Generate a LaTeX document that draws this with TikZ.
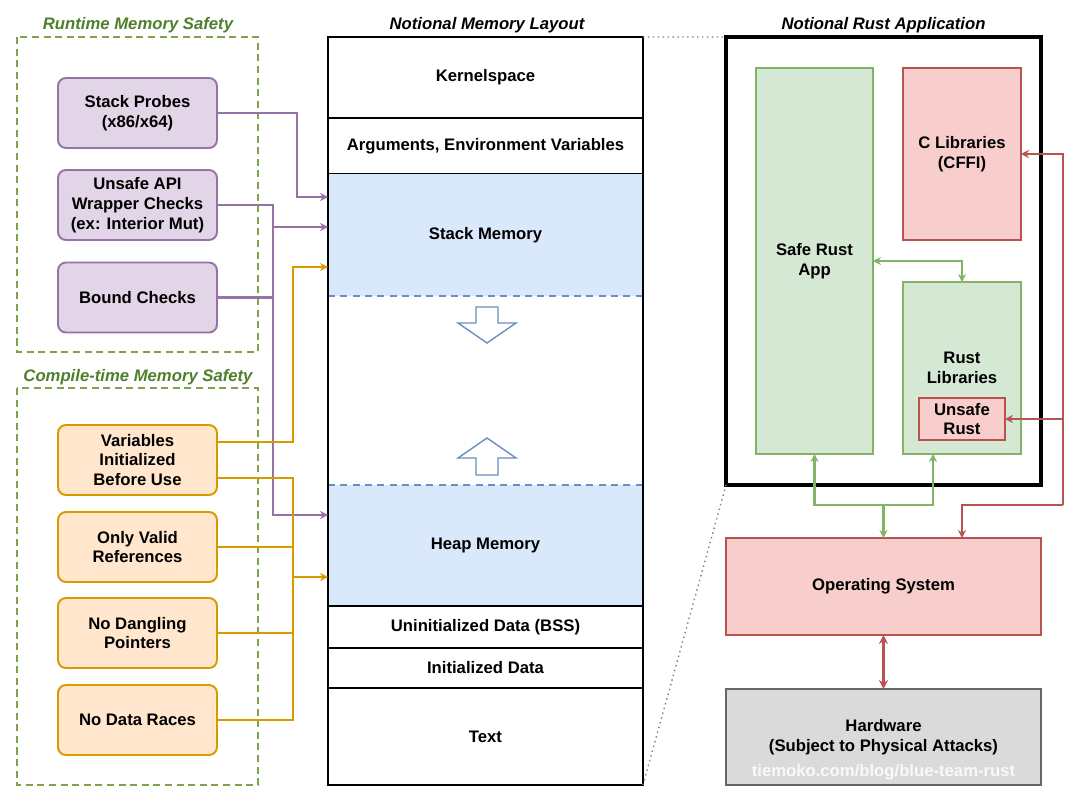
\documentclass[tikz,border=0pt]{standalone}
\usepackage{fontspec}
\setmainfont{Liberation Sans}
\usetikzlibrary{arrows.meta, positioning, calc}

\definecolor{purpfill}{HTML}{E1D5E7}
\definecolor{purpline}{HTML}{9673A6}
\definecolor{orngfill}{HTML}{FFE6CC}
\definecolor{orngline}{HTML}{D79B00}
\definecolor{grnfill}{HTML}{D5E8D4}
\definecolor{grnline}{HTML}{82B366}
\definecolor{redfill}{HTML}{F8CECC}
\definecolor{redline}{HTML}{B85450}
\definecolor{bluefill}{HTML}{DAE8FC}
\definecolor{blueline}{HTML}{6C8EBF}
\definecolor{grayfill}{HTML}{DADADA}
\definecolor{grayline}{HTML}{666666}
\definecolor{grouptitle}{HTML}{4E7F2A}
\definecolor{groupline}{HTML}{7FA34A}

\tikzset{
  every node/.style={font=\fontsize{9.5}{11.3}\selectfont\bfseries, align=center, inner sep=0pt, outer sep=0pt},
  tip/.style={-{Stealth[length=1.6mm,width=1.6mm]}},
  checkbox/.style={draw, rounded corners=0.16cm, line width=1.1pt, minimum width=3.18cm, minimum height=1.4cm},
  runbox/.style={checkbox, draw=purpline, fill=purpfill},
  compbox/.style={checkbox, draw=orngline, fill=orngfill},
  group/.style={draw=groupline, dashed, dash pattern=on 4pt off 2.6pt, line width=1.1pt},
  grouplabel/.style={text=grouptitle, font=\fontsize{9.5}{11.3}\selectfont\bfseries\itshape},
  seg/.style={draw, line width=1.5pt, minimum width=6.3cm},
  blueseg/.style={fill=bluefill, minimum width=6.3cm},
  appbox/.style={line width=1.1pt},
  purp/.style={draw=purpline, line width=1.2pt},
  orng/.style={draw=orngline, line width=1.2pt},
  grn/.style={draw=grnline, line width=1.2pt},
  redd/.style={draw=redline, line width=1.2pt},
}

\begin{document}
\begin{tikzpicture}[x=0.02cm, y=-0.02cm]
  \useasboundingbox[fill=white] (0,0) rectangle (1076,797);

  % Runtime group
  \draw[group] (17,37) rectangle (258,352);
  \node[grouplabel] (rtlabel) at (138,25) {Runtime Memory Safety};
  \node[runbox] (sp) at (137.5,113) {Stack Probes\\(x86/x64)};
  \node[runbox] (api) at (137.5,205) {Unsafe API\\Wrapper Checks\\(ex: Interior Mut)};
  \node[runbox] (bc) at (137.5,297.5) {Bound Checks};

  % Compile-time group
  \draw[group] (17,388) rectangle (258,785);
  \node[grouplabel] (ctlabel) at (138,377) {Compile-time Memory Safety};
  \node[compbox] (var) at (137.5,460) {Variables\\Initialized\\Before Use};
  \node[compbox] (ref) at (137.5,547) {Only Valid\\References};
  \node[compbox] (dang) at (137.5,633) {No Dangling\\Pointers};
  \node[compbox] (race) at (137.5,720) {No Data Races};

  % Memory layout
  \node (memlabel) at (487,25) {\itshape Notional Memory Layout};
  \node[seg, minimum height=1.62cm] (kern) at (485.5,77.5) {Kernelspace};
  \node[seg, minimum height=1.12cm] (args) at (485.5,146) {Arguments, Environment Variables};
  \node[blueseg, minimum height=2.44cm] (stack) at (485.5,235) {Stack Memory};
  \node[blueseg, minimum height=2.42cm] (heap) at (485.5,545.5) {Heap Memory};
  \node[seg, minimum height=0.84cm] (bss) at (485.5,627) {Uninitialized Data (BSS)};
  \node[seg, minimum height=0.80cm] (init) at (485.5,668) {Initialized Data};
  \node[seg, minimum height=1.94cm] (text) at (485.5,736.5) {Text};
  \draw[blueline, dashed, dash pattern=on 4pt off 3pt, line width=0.9pt] (stack.south west) -- (stack.south east);
  \draw[blueline, dashed, dash pattern=on 4pt off 3pt, line width=0.9pt] (heap.north west) -- (heap.north east);
  \draw[line width=1.5pt] (kern.north west) rectangle (text.south east);

  % growth arrows
  \draw[blueline, fill=white, line width=0.8pt] (476,307) -- (498,307) -- (498,323) -- (516,323) -- (487,343) -- (458,323) -- (476,323) -- cycle;
  \draw[blueline, fill=white, line width=0.8pt] (476,475) -- (498,475) -- (498,458) -- (516,458) -- (487,438) -- (458,458) -- (476,458) -- cycle;

  % runtime connectors
  \draw[purp, tip] (sp.east) -- ++(80,0) |- ([yshift=0.76cm]stack.west);
  \draw[purp, tip] (api.east) -- ++(56,0) coordinate (pv) |- ([yshift=0.16cm]stack.west);
  \draw[purp, tip] (pv) |- ([yshift=0.61cm]heap.west);
  \draw[purp] (bc.east) -- (bc.east -| pv);

  % compile-time connectors
  \draw[orng, tip] ([yshift=0.36cm]var.east) -- ++(76,0) |- ([yshift=-0.64cm]stack.west);
  \draw[orng] ([yshift=-0.36cm]var.east) -- ++(76,0) coordinate (ov) -- (ov |- race.east) -- (race.east);
  \draw[orng] (ref.east) -- (ref.east -| ov);
  \draw[orng] (dang.east) -- (dang.east -| ov);
  \draw[orng, tip] ([yshift=-0.63cm]heap.west -| ov) -- ([yshift=-0.63cm]heap.west);

  % Rust application
  \node (applabel) at (883.5,25) {\itshape Notional Rust Application};
  \node[draw, line width=2pt, minimum width=6.3cm, minimum height=8.96cm] (app) at (883.5,261) {};
  \node[draw=grnline, fill=grnfill, appbox, minimum width=2.34cm, minimum height=7.72cm] (safe) at (814.5,261) {Safe Rust\\App};
  \node[draw=redline, fill=redfill, appbox, minimum width=2.36cm, minimum height=3.44cm] (clib) at (962,154) {C Libraries\\(CFFI)};
  \node[draw=grnline, fill=grnfill, appbox, minimum width=2.36cm, minimum height=3.44cm] (rlib) at (962,368) {Rust\\Libraries};
  \node[draw=redline, fill=redfill, appbox, minimum width=1.72cm, minimum height=0.84cm] (unsafe) at (962,419) {Unsafe\\Rust};
  \node[draw=redline, fill=redfill, appbox, minimum width=6.3cm, minimum height=1.94cm] (os) at (883.5,586.5) {Operating System};
  \node[draw=grayline, fill=grayfill, appbox, minimum width=6.3cm, minimum height=1.92cm] (hw) at (883.5,737) {Hardware\\(Subject to Physical Attacks)};
  \node[text=white!85!grayfill] (mark) at (883.5,772) {tiemoko.com/blog/blue-team-rust};

  \draw[grn, {Stealth[length=1.6mm,width=1.6mm]}-{Stealth[length=1.6mm,width=1.6mm]}] (safe.east) -| (rlib.north);
  \coordinate (gj) at (883.5,505);
  \draw[grn, tip] (gj) -- (os.north);
  \draw[grn, tip] (gj) -| (safe.south);
  \draw[grn, tip] (gj) -| ([xshift=-0.58cm]rlib.south);

  \coordinate (rj) at (1063,505);
  \draw[redd, tip] (rj) -| ([xshift=1.57cm]os.north);
  \draw[redd, tip] (rj) |- (clib.east);
  \draw[redd, tip] (rj) |- (unsafe.east);
  \draw[redd, line width=1.5pt, {Stealth[length=1.8mm,width=1.8mm]}-{Stealth[length=1.8mm,width=1.8mm]}] (os.south) -- (hw.north);

  % zoom lines
  \draw[gray, dotted, line width=0.8pt] (kern.north east) -- (app.north west);
  \draw[gray, dotted, line width=0.8pt] (text.south east) -- (app.south west);
\end{tikzpicture}
\end{document}
